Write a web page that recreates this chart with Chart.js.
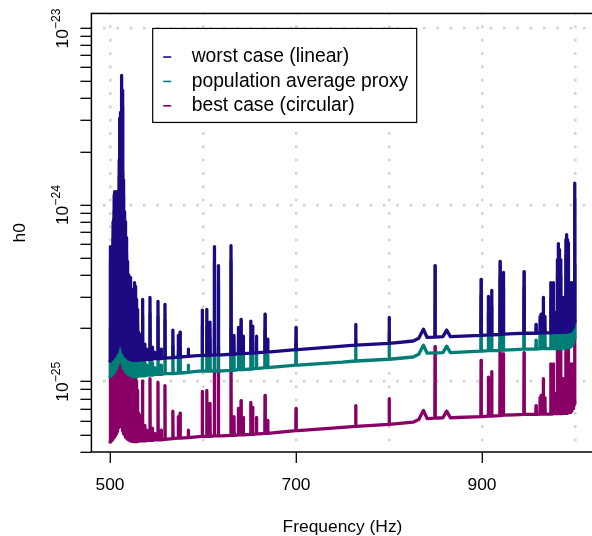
<!DOCTYPE html>
<html><head><meta charset="utf-8">
<script src="https://cdn.jsdelivr.net/npm/chart.js@4/dist/chart.umd.min.js"></script>
<style>
html,body{margin:0;padding:0;background:#fff;overflow:hidden;width:592px;height:536px;}
canvas{display:block;}
</style></head><body>
<canvas id="c" width="600" height="536" style="width:600px;height:536px"></canvas>
<script>
// ---------------- DATA ----------------
const seriesLabels = ['worst case (linear)', 'population average proxy', 'best case (circular)'];
const seriesColors = ['#1d0a82', '#007d75', '#880066'];

const xGridTicks = [500, 600, 700, 800, 900, 1000];
const xLabelTicks = [500, 700, 900];
const yTicks = [4e-26, 5e-26, 6e-26, 7e-26, 8e-26, 9e-26,
  1e-25, 2e-25, 3e-25, 4e-25, 5e-25, 6e-25, 7e-25, 8e-25, 9e-25,
  1e-24, 2e-24, 3e-24, 4e-24, 5e-24, 6e-24, 7e-24, 8e-24, 9e-24, 1e-23];
const yLabelTicks = [1e-25, 1e-24, 1e-23];
const yLabelBase = ['10', '10', '10'];
const yLabelExp = ['\u221225', '\u221224', '\u221223'];

// baseline knots [frequency Hz, h0]
const worstBase = [[500,1.31e-25],[505,1.40e-25],[508,1.53e-25],[511,1.72e-25],[514,1.53e-25],[518,1.38e-25],
  [525,1.32e-25],[540,1.34e-25],[560,1.36e-25],[590,1.40e-25],[620,1.42e-25],[660,1.46e-25],[702,1.52e-25],
  [750,1.59e-25],[800,1.65e-25],[826,1.70e-25],[832,1.76e-25],[837,1.98e-25],[841,1.78e-25],[858,1.80e-25],
  [862,1.96e-25],[866,1.80e-25],[900.5,1.83e-25],[935,1.87e-25],[970,1.89e-25],[991.5,1.91e-25],[995,1.94e-25],
  [998,2.06e-25],[1000,2.21e-25]];
const popBase = [[500,1.07e-25],[505,1.14e-25],[508,1.24e-25],[511,1.40e-25],[514,1.24e-25],[518,1.12e-25],
  [525,1.07e-25],[540,1.09e-25],[560,1.11e-25],[590,1.14e-25],[620,1.15e-25],[660,1.19e-25],[702,1.24e-25],
  [750,1.29e-25],[800,1.34e-25],[826,1.38e-25],[832,1.43e-25],[837,1.61e-25],[841,1.45e-25],[858,1.46e-25],
  [862,1.59e-25],[866,1.46e-25],[900.5,1.49e-25],[935,1.52e-25],[970,1.54e-25],[991.5,1.55e-25],[995,1.58e-25],
  [998,1.68e-25],[1000,1.80e-25]];
const bestBase = [[500,4.55e-26],[505,4.86e-26],[508,5.31e-26],[511,5.85e-26],[514,5.31e-26],[518,4.79e-26],
  [525,4.58e-26],[540,4.65e-26],[560,4.72e-26],[590,4.86e-26],[620,4.93e-26],[660,5.07e-26],[702,5.28e-26],
  [750,5.52e-26],[800,5.73e-26],[826,5.90e-26],[832,6.11e-26],[837,6.88e-26],[841,6.18e-26],[858,6.25e-26],
  [862,6.81e-26],[866,6.25e-26],[900.5,6.35e-26],[935,6.49e-26],[970,6.56e-26],[991.5,6.63e-26],[995,6.74e-26],
  [998,7.15e-26],[1000,7.67e-26]];

// spectral lines [frequency Hz, foot h0, peak h0]
const worstSpikes = [
[500.3,1.32e-25,2.92e-25],[500.9,1.33e-25,5.82e-25],[501.5,1.34e-25,5.59e-25],[502.1,1.35e-25,4.79e-25],
[502.7,1.37e-25,5.24e-25],[503.3,1.38e-25,8.04e-25],[503.9,1.39e-25,8.25e-25],[504.5,1.40e-25,1.14e-24],
[505.1,1.41e-25,1.19e-24],[505.7,1.43e-25,1.17e-24],[506.3,1.46e-25,1.13e-24],[506.9,1.49e-25,1.19e-24],
[507.5,1.51e-25,1.11e-24],[508.1,1.54e-25,1.16e-24],[508.7,1.58e-25,1.07e-24],[509.3,1.62e-25,1.10e-24],
[509.9,1.66e-25,1.80e-24],[510.5,1.69e-25,3.10e-24],[511.1,1.71e-25,3.35e-24],[511.7,1.68e-25,2.05e-24],
[512.3,1.64e-25,1.07e-24],[512.9,1.60e-25,5.41e-24],[513.5,1.56e-25,4.46e-24],[514.1,1.52e-25,1.39e-24],
[514.7,1.49e-25,8.81e-25],[515.3,1.46e-25,9.16e-25],[515.9,1.44e-25,7.06e-25],[516.5,1.42e-25,8.04e-25],
[517.1,1.40e-25,6.37e-25],[517.7,1.39e-25,6.53e-25],[518.3,1.38e-25,4.79e-25],[518.9,1.37e-25,3.89e-25],
[519.5,1.36e-25,4.04e-25],[520.1,1.35e-25,3.79e-25],[520.7,1.35e-25,3.64e-25],[521.3,1.34e-25,2.92e-25],
[521.9,1.34e-25,3.89e-25],[522.5,1.33e-25,3.33e-25],[523.1,1.33e-25,3.12e-25],[523.7,1.33e-25,3.33e-25],
[524.3,1.32e-25,3.24e-25],[524.9,1.32e-25,2.74e-25],[525.5,1.32e-25,2.92e-25],[526.1,1.32e-25,3.33e-25],
[526.7,1.32e-25,3.64e-25],[527.3,1.32e-25,3.12e-25],[527.9,1.32e-25,3.46e-25],[528.5,1.32e-25,2.92e-25],
[529.1,1.32e-25,2.57e-25],[529.7,1.32e-25,2.20e-25],[530.3,1.33e-25,1.86e-25],[530.9,1.33e-25,1.91e-25],
[531.5,1.33e-25,1.74e-25],[532.1,1.33e-25,1.86e-25],[532.7,1.33e-25,1.63e-25],[533.3,1.33e-25,1.83e-25],
[533.9,1.33e-25,1.70e-25],[534.5,1.33e-25,1.79e-25],[535.2,1.33e-25,2.92e-25],[537.5,1.33e-25,1.63e-25],
[539.6,1.34e-25,1.53e-25],[543.0,1.34e-25,3.00e-25],[545.5,1.34e-25,1.57e-25],[548.0,1.35e-25,1.47e-25],
[551.6,1.35e-25,2.85e-25],[555.0,1.35e-25,1.53e-25],[559.1,1.36e-25,2.74e-25],[567.6,1.37e-25,1.96e-25],
[573.4,1.38e-25,1.83e-25],[575.3,1.38e-25,1.91e-25],[584.2,1.39e-25,1.53e-25],[599.2,1.41e-25,2.54e-25],
[604.1,1.41e-25,2.57e-25],[607.5,1.41e-25,2.17e-25],[612.2,1.42e-25,5.82e-25],[616.5,1.42e-25,4.54e-25],
[630.1,1.43e-25,5.89e-25],[633.3,1.43e-25,1.83e-25],[638.0,1.44e-25,2.03e-25],[640.9,1.44e-25,2.25e-25],
[643.3,1.44e-25,1.81e-25],[651.3,1.45e-25,2.20e-25],[653.4,1.45e-25,2.06e-25],[657.5,1.46e-25,1.81e-25],
[666.7,1.47e-25,2.41e-25],[669.6,1.47e-25,1.74e-25],[700.0,1.52e-25,2.03e-25],[764.2,1.61e-25,2.11e-25],
[800.3,1.65e-25,2.31e-25],[849.5,1.79e-25,4.54e-25],[899.0,1.83e-25,3.79e-25],[906.8,1.84e-25,3.04e-25],
[910.4,1.84e-25,3.29e-25],[919.4,1.85e-25,4.79e-25],[923.0,1.86e-25,4.15e-25],[945.2,1.88e-25,4.20e-25],
[958.1,1.88e-25,2.11e-25],[962.5,1.89e-25,2.34e-25],[963.5,1.89e-25,2.41e-25],[965.9,1.89e-25,3.00e-25],
[967.7,1.89e-25,2.34e-25],[973.9,1.89e-25,3.64e-25],[975.3,1.89e-25,3.33e-25],[976.7,1.90e-25,3.64e-25],
[978.2,1.90e-25,2.47e-25],[979.6,1.90e-25,2.47e-25],[981.0,1.90e-25,4.91e-25],[982.0,1.90e-25,6.05e-25],
[983.2,1.90e-25,5.59e-25],[984.6,1.90e-25,4.91e-25],[986.0,1.90e-25,3.00e-25],[987.4,1.91e-25,3.00e-25],
[988.8,1.91e-25,2.57e-25],[990.2,1.91e-25,6.37e-25],[991.0,1.91e-25,6.79e-25],[992.0,1.92e-25,6.37e-25],
[992.8,1.92e-25,6.12e-25],[994.6,1.93e-25,3.64e-25],[995.6,1.96e-25,3.33e-25],[996.5,1.99e-25,3.64e-25],
[997.6,2.03e-25,2.92e-25],[998.6,2.08e-25,3.33e-25],[999.6,2.15e-25,1.33e-24]];

const popSpikes = [
[500.3,1.07e-25,2.37e-25],[500.9,1.08e-25,4.73e-25],[501.5,1.09e-25,4.54e-25],[502.1,1.10e-25,3.89e-25],
[502.7,1.11e-25,4.26e-25],[503.3,1.12e-25,6.54e-25],[503.9,1.13e-25,6.71e-25],[504.5,1.14e-25,9.27e-25],
[505.1,1.15e-25,9.67e-25],[505.7,1.16e-25,9.51e-25],[506.3,1.19e-25,9.19e-25],[506.9,1.21e-25,9.67e-25],
[507.5,1.23e-25,9.02e-25],[508.1,1.25e-25,9.43e-25],[508.7,1.28e-25,8.70e-25],[509.3,1.32e-25,8.94e-25],
[509.9,1.35e-25,1.46e-24],[510.5,1.37e-25,2.52e-24],[511.1,1.39e-25,2.72e-24],[511.7,1.37e-25,1.67e-24],
[512.3,1.33e-25,8.70e-25],[512.9,1.30e-25,4.40e-24],[513.5,1.27e-25,3.63e-24],[514.1,1.24e-25,1.13e-24],
[514.7,1.21e-25,7.16e-25],[515.3,1.19e-25,7.45e-25],[515.9,1.17e-25,5.74e-25],[516.5,1.15e-25,6.54e-25],
[517.1,1.14e-25,5.18e-25],[517.7,1.13e-25,5.31e-25],[518.3,1.12e-25,3.89e-25],[518.9,1.11e-25,3.16e-25],
[519.5,1.11e-25,3.28e-25],[520.1,1.10e-25,3.08e-25],[520.7,1.10e-25,2.96e-25],[521.3,1.09e-25,2.37e-25],
[521.9,1.09e-25,3.16e-25],[522.5,1.08e-25,2.71e-25],[523.1,1.08e-25,2.54e-25],[523.7,1.08e-25,2.71e-25],
[524.3,1.07e-25,2.63e-25],[524.9,1.07e-25,2.23e-25],[525.5,1.07e-25,2.37e-25],[526.1,1.07e-25,2.71e-25],
[526.7,1.07e-25,2.96e-25],[527.3,1.07e-25,2.54e-25],[527.9,1.07e-25,2.81e-25],[528.5,1.07e-25,2.37e-25],
[529.1,1.07e-25,2.09e-25],[529.7,1.07e-25,1.79e-25],[530.3,1.08e-25,1.51e-25],[530.9,1.08e-25,1.55e-25],
[531.5,1.08e-25,1.41e-25],[532.1,1.08e-25,1.51e-25],[532.7,1.08e-25,1.33e-25],[533.3,1.08e-25,1.49e-25],
[533.9,1.08e-25,1.38e-25],[534.5,1.08e-25,1.46e-25],[535.2,1.08e-25,2.37e-25],[537.5,1.08e-25,1.33e-25],
[539.6,1.09e-25,1.24e-25],[543.0,1.09e-25,2.44e-25],[545.5,1.09e-25,1.28e-25],[548.0,1.10e-25,1.20e-25],
[551.6,1.10e-25,2.32e-25],[555.0,1.10e-25,1.24e-25],[559.1,1.11e-25,2.23e-25],[567.6,1.11e-25,1.59e-25],
[573.4,1.12e-25,1.49e-25],[575.3,1.12e-25,1.55e-25],[584.2,1.13e-25,1.24e-25],[599.2,1.15e-25,2.07e-25],
[604.1,1.15e-25,2.09e-25],[607.5,1.15e-25,1.76e-25],[612.2,1.15e-25,4.73e-25],[616.5,1.15e-25,3.69e-25],
[630.1,1.16e-25,4.79e-25],[633.3,1.16e-25,1.49e-25],[638.0,1.17e-25,1.65e-25],[640.9,1.17e-25,1.83e-25],
[643.3,1.17e-25,1.47e-25],[651.3,1.18e-25,1.79e-25],[653.4,1.18e-25,1.67e-25],[657.5,1.19e-25,1.47e-25],
[666.7,1.20e-25,1.96e-25],[669.6,1.20e-25,1.41e-25],[700.0,1.24e-25,1.65e-25],[764.2,1.31e-25,1.72e-25],
[800.3,1.34e-25,1.88e-25],[899.0,1.49e-25,3.08e-25],[906.8,1.50e-25,2.47e-25],
[910.4,1.50e-25,2.67e-25],[919.4,1.50e-25,3.89e-25],[923.0,1.51e-25,3.37e-25],[945.2,1.53e-25,3.41e-25],
[958.1,1.53e-25,1.72e-25],[962.5,1.54e-25,1.90e-25],[963.5,1.54e-25,1.96e-25],[965.9,1.54e-25,2.44e-25],
[967.7,1.54e-25,1.90e-25],[973.9,1.54e-25,2.96e-25],[975.3,1.54e-25,2.71e-25],[976.7,1.54e-25,2.96e-25],
[978.2,1.54e-25,2.01e-25],[979.6,1.54e-25,2.01e-25],[981.0,1.54e-25,3.99e-25],[982.0,1.54e-25,4.92e-25],
[983.2,1.54e-25,4.54e-25],[984.6,1.54e-25,3.99e-25],[986.0,1.54e-25,2.44e-25],[987.4,1.55e-25,2.44e-25],
[988.8,1.55e-25,2.09e-25],[990.2,1.55e-25,5.18e-25],[991.0,1.55e-25,5.52e-25],[992.0,1.56e-25,5.18e-25],
[992.8,1.56e-25,4.98e-25],[994.6,1.57e-25,2.96e-25],[995.6,1.59e-25,2.71e-25],[996.5,1.62e-25,2.96e-25],
[997.6,1.65e-25,2.37e-25],[998.6,1.69e-25,2.71e-25],[999.6,1.75e-25,1.08e-24]];

const bestSpikes = [
[500.3,4.58e-26,1.01e-25],[500.9,4.62e-26,2.02e-25],[501.5,4.65e-26,1.94e-25],[502.1,4.69e-26,1.66e-25],
[502.7,4.76e-26,1.82e-25],[503.3,4.79e-26,2.79e-25],[503.9,4.83e-26,2.86e-25],[504.5,4.86e-26,3.96e-25],
[505.1,4.90e-26,4.13e-25],[505.7,4.97e-26,4.06e-25],[506.3,5.07e-26,3.92e-25],[506.9,5.17e-26,4.13e-25],
[507.5,5.24e-26,3.85e-25],[508.1,5.35e-26,4.03e-25],[508.7,5.49e-26,3.72e-25],[509.3,5.63e-26,3.82e-25],
[509.9,5.76e-26,6.25e-25],[510.5,5.87e-26,1.08e-24],[511.1,5.94e-26,1.16e-24],[511.7,5.83e-26,7.12e-25],
[512.3,5.69e-26,3.72e-25],[512.9,5.56e-26,1.88e-24],[513.5,5.42e-26,1.55e-24],[514.1,5.28e-26,4.83e-25],
[514.7,5.17e-26,3.06e-25],[515.3,5.07e-26,3.18e-25],[515.9,5.00e-26,2.45e-25],[516.5,4.93e-26,2.79e-25],
[517.1,4.86e-26,2.21e-25],[517.7,4.83e-26,2.27e-25],[518.3,4.79e-26,1.66e-25],[518.9,4.76e-26,1.35e-25],
[519.5,4.72e-26,1.40e-25],[520.1,4.69e-26,1.32e-25],[520.7,4.69e-26,1.26e-25],[521.3,4.65e-26,1.01e-25],
[521.9,4.65e-26,1.35e-25],[522.5,4.62e-26,1.16e-25],[523.1,4.62e-26,1.08e-25],[523.7,4.62e-26,1.16e-25],
[524.3,4.58e-26,1.13e-25],[524.9,4.58e-26,9.51e-26],[525.5,4.58e-26,1.01e-25],[526.1,4.58e-26,1.16e-25],
[526.7,4.58e-26,1.26e-25],[527.3,4.58e-26,1.08e-25],[527.9,4.58e-26,1.20e-25],[528.5,4.58e-26,1.01e-25],
[529.1,4.58e-26,8.92e-26],[529.7,4.58e-26,7.64e-26],[530.3,4.62e-26,6.46e-26],[530.9,4.62e-26,6.63e-26],
[531.5,4.62e-26,6.04e-26],[532.1,4.62e-26,6.46e-26],[532.7,4.62e-26,5.66e-26],[533.3,4.62e-26,6.35e-26],
[533.9,4.62e-26,5.90e-26],[534.5,4.62e-26,6.22e-26],[535.2,4.62e-26,1.01e-25],[537.5,4.62e-26,5.66e-26],
[539.6,4.65e-26,5.31e-26],[543.0,4.65e-26,1.04e-25],[545.5,4.65e-26,5.45e-26],[548.0,4.69e-26,5.10e-26],
[551.6,4.69e-26,9.90e-26],[555.0,4.69e-26,5.31e-26],[559.1,4.72e-26,9.51e-26],[567.6,4.76e-26,6.81e-26],
[573.4,4.79e-26,6.35e-26],[575.3,4.79e-26,6.63e-26],[584.2,4.83e-26,5.31e-26],[599.2,4.90e-26,8.82e-26],
[604.1,4.90e-26,8.92e-26],[607.5,4.90e-26,7.53e-26],[612.2,4.93e-26,2.02e-25],[616.5,4.93e-26,1.58e-25],
[630.1,4.97e-26,2.05e-25],[633.3,4.97e-26,6.35e-26],[638.0,5.00e-26,7.05e-26],[640.9,5.00e-26,7.81e-26],
[643.3,5.00e-26,6.28e-26],[651.3,5.03e-26,7.64e-26],[653.4,5.03e-26,7.15e-26],[657.5,5.07e-26,6.28e-26],
[666.7,5.10e-26,8.37e-26],[669.6,5.10e-26,6.04e-26],[700.0,5.28e-26,7.05e-26],[764.2,5.59e-26,7.33e-26],
[800.3,5.73e-26,8.02e-26],[849.5,6.22e-26,1.58e-25],[899.0,6.35e-26,1.32e-25],[906.8,6.39e-26,1.06e-25],
[910.4,6.39e-26,1.14e-25],[919.4,6.42e-26,1.66e-25],[923.0,6.46e-26,1.44e-25],[945.2,6.53e-26,1.46e-25],
[958.1,6.53e-26,7.33e-26],[962.5,6.56e-26,8.13e-26],[963.5,6.56e-26,8.37e-26],[965.9,6.56e-26,1.04e-25],
[967.7,6.56e-26,8.13e-26],[973.9,6.56e-26,1.26e-25],[975.3,6.56e-26,1.16e-25],[976.7,6.60e-26,1.26e-25],
[978.2,6.60e-26,8.58e-26],[979.6,6.60e-26,8.58e-26],[981.0,6.60e-26,1.70e-25],[982.0,6.60e-26,2.10e-25],
[983.2,6.60e-26,1.94e-25],[984.6,6.60e-26,1.70e-25],[986.0,6.60e-26,1.04e-25],[987.4,6.63e-26,1.04e-25],
[988.8,6.63e-26,8.92e-26],[990.2,6.63e-26,2.21e-25],[991.0,6.63e-26,2.36e-25],[992.0,6.67e-26,2.21e-25],
[992.8,6.67e-26,2.13e-25],[994.6,6.70e-26,1.26e-25],[995.6,6.81e-26,1.16e-25],[996.5,6.91e-26,1.26e-25],
[997.6,7.05e-26,1.01e-25],[998.6,7.22e-26,1.16e-25],[999.6,7.47e-26,4.62e-25]];

// ---------------- BUILD ----------------
const FONT = "'Liberation Sans', Arial, Helvetica, sans-serif";
const HALF_LINE = 0.25; // Hz half-width of a line spike

function buildSeries(base, spikes) {
  const pts = base.map(([f, v]) => ({x: f, y: v}));
  spikes.forEach(([f, foot, peak]) => {
    pts.push({x: f - HALF_LINE, y: foot}, {x: f, y: peak}, {x: f + HALF_LINE, y: foot});
  });
  pts.sort((a, b) => a.x - b.x);
  return pts;
}

function ds(i, base, spikes) {
  return {
    label: seriesLabels[i],
    data: buildSeries(base, spikes),
    borderColor: seriesColors[i],
    backgroundColor: seriesColors[i],
    borderWidth: 3.3,
    pointRadius: 0,
    tension: 0,
    fill: false,
    borderJoinStyle: 'round',
    borderCapStyle: 'round',
    order: i + 1
  };
}

const isDecade = v => yLabelTicks.some(t => Math.abs(Math.log10(t) - Math.log10(v)) < 1e-6);
const GRID_COLOR = '#d2d2d2';

const framePlugin = {
  id: 'frame',
  afterDraw(chart) {
    const {ctx, chartArea: a} = chart;
    ctx.save();
    ctx.strokeStyle = '#000';
    ctx.lineWidth = 1.5;
    ctx.strokeRect(a.left, a.top, a.right - a.left, a.bottom - a.top);
    ctx.restore();
  }
};

const yLabelPlugin = {
  id: 'yLabels',
  afterDraw(chart) {
    const s = chart.scales.y, ctx = chart.ctx;
    const baseX = chart.chartArea.left - 23.4;
    yLabelTicks.forEach((v, i) => {
      const y = s.getPixelForValue(v);
      ctx.save();
      ctx.translate(baseX, y);
      ctx.rotate(-Math.PI / 2);
      ctx.fillStyle = '#000';
      ctx.textBaseline = 'alphabetic';
      ctx.textAlign = 'left';
      ctx.font = '17.4px ' + FONT;
      const w1 = ctx.measureText(yLabelBase[i]).width;
      ctx.font = '12.2px ' + FONT;
      const w2 = ctx.measureText(yLabelExp[i]).width;
      const x0 = -(w1 + w2) / 2;
      ctx.font = '17.4px ' + FONT;
      ctx.fillText(yLabelBase[i], x0, 0);
      ctx.font = '12.2px ' + FONT;
      ctx.fillText(yLabelExp[i], x0 + w1, -8);
      ctx.restore();
    });
  }
};

const legendPlugin = {
  id: 'rLegend',
  afterDraw(chart) {
    const ctx = chart.ctx, a = chart.chartArea;
    const left = a.left + 61.3, top = a.top + 15, w = 264, h = 94;
    ctx.save();
    ctx.fillStyle = '#fff';
    ctx.fillRect(left, top, w, h);
    ctx.strokeStyle = '#000';
    ctx.lineWidth = 1.2;
    ctx.strokeRect(left, top, w, h);
    chart.data.datasets.forEach((d, i) => {
      const y = top + 28.6 + i * 24.4;
      ctx.strokeStyle = d.borderColor;
      ctx.lineWidth = 1.6;
      ctx.beginPath();
      ctx.moveTo(left + 10.5, y);
      ctx.lineTo(left + 18.5, y);
      ctx.stroke();
      ctx.fillStyle = '#000';
      ctx.font = '19.3px ' + FONT;
      ctx.textBaseline = 'middle';
      ctx.textAlign = 'left';
      ctx.fillText(d.label, left + 39, y);
    });
    ctx.restore();
  }
};

new Chart(document.getElementById('c'), {
  type: 'line',
  data: {
    datasets: [ds(0, worstBase, worstSpikes), ds(1, popBase, popSpikes), ds(2, bestBase, bestSpikes)]
  },
  options: {
    responsive: false,
    animation: false,
    devicePixelRatio: 1,
    layout: {padding: {left: 0, top: 12.7, right: 6.4, bottom: 0}},
    plugins: {legend: {display: false}, tooltip: {enabled: false}, title: {display: false}},
    scales: {
      x: {
        type: 'linear', position: 'bottom', min: 480, max: 1020,
        afterBuildTicks: s => { s.ticks = xGridTicks.map(v => ({value: v})); },
        afterFit: s => { s.height = 84; },
        ticks: {
          autoSkip: false, maxRotation: 0, minRotation: 0, padding: 11.5, color: '#000',
          font: {family: FONT, size: 17.4},
          callback: v => xLabelTicks.includes(v) ? String(v) : ''
        },
        grid: {
          drawOnChartArea: true, drawTicks: true, tickLength: 11, lineWidth: 2.6, color: GRID_COLOR,
          tickWidth: 1.3,
          tickColor: c => (c.tick && xLabelTicks.includes(c.tick.value)) ? '#000' : 'rgba(0,0,0,0)'
        },
        border: {display: false, dash: [2.6, 10.73], dashOffset: 1.3},
        title: {display: true, text: 'Frequency (Hz)', color: '#000',
          font: {family: FONT, size: 17.4, lineHeight: 1.06}, padding: 0}
      },
      y: {
        type: 'logarithmic', position: 'left', min: 4.07e-26, max: 1.215e-23,
        afterBuildTicks: s => { s.ticks = yTicks.map(v => ({value: v})); },
        afterFit: s => { s.width = 91.4; },
        ticks: {autoSkip: false, color: '#000', font: {family: FONT, size: 17.4}, callback: () => ''},
        grid: {
          drawOnChartArea: true, drawTicks: true, tickLength: 11, lineWidth: 2.6, tickWidth: 1.3,
          tickColor: '#000',
          color: c => (c.tick && isDecade(c.tick.value)) ? GRID_COLOR : 'rgba(0,0,0,0)'
        },
        border: {display: false, dash: [2.6, 10.73], dashOffset: 1.3},
        title: {display: true, text: 'h0', color: '#000',
          font: {family: FONT, size: 17.4, lineHeight: 1.06}, padding: {top: 10.8, bottom: 0}}
      }
    }
  },
  plugins: [framePlugin, yLabelPlugin, legendPlugin]
});
</script>
</body></html>
